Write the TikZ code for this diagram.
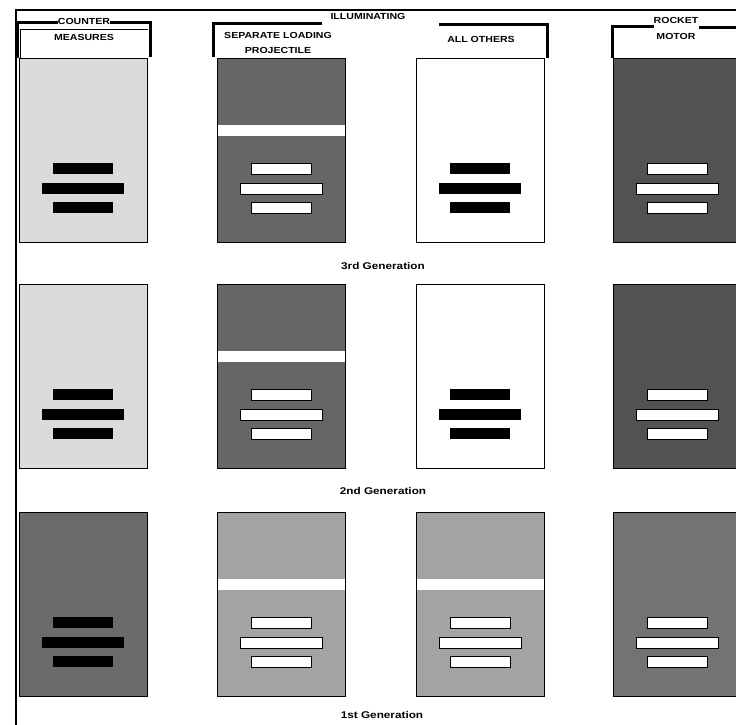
\documentclass[tikz,border=0pt]{standalone}
\usepackage{fontspec}
\setmainfont{Liberation Sans}[FakeStretch=1.2]
\definecolor{cmlight}{gray}{0.86}
\definecolor{cmdark}{gray}{0.42}
\definecolor{sldark}{gray}{0.40}
\definecolor{rmdark}{gray}{0.32}
\definecolor{rmmid}{gray}{0.45}
\definecolor{ltgray}{gray}{0.64}
\tikzset{
  frameline/.style={line width=1.4pt},
  bracket/.style={line width=3pt},
  thinline/.style={line width=0.6pt},
  panelbox/.style={draw=black, line width=0.9pt},
  blackbar/.style={fill=black},
  whitebar/.style={fill=white, draw=black, line width=0.9pt},
  stripefill/.style={fill=white},
  hdr/.style={font=\fontsize{8.8}{10}\selectfont\bfseries, inner sep=0pt, align=center},
  genlabel/.style={font=\fontsize{9.8}{11}\selectfont\bfseries, inner sep=0pt},
}
% #1 x left, #2 y top, #3 fill colour, #4 bar style, #5 stripe (1/0)
\newcommand{\drawpanel}[5]{%
  \begin{scope}[shift={(#1,#2)}]
    \fill[#3] (0,0) rectangle (128,184);
    \ifnum#5=1 \fill[stripefill] (0,67) rectangle (128,78);\fi
    \path[#4] (34,105) rectangle (94,116);
    \path[#4] (23,125) rectangle (105,136);
    \path[#4] (34,144) rectangle (94,155);
    \draw[panelbox] (0,0) rectangle (128,184);
  \end{scope}}
\begin{document}
\begin{tikzpicture}[x=1pt,y=-1pt]
  \useasboundingbox (0,0) rectangle (736,725);
  \fill[white] (0,0) rectangle (736,725);
  % outer frame
  \draw[frameline] (16,725) -- (16,10) -- (736,10);

  % ---- 3rd generation row
  \drawpanel{19}{58}{cmlight}{blackbar}{0}
  \drawpanel{217}{58}{sldark}{whitebar}{1}
  \drawpanel{416}{58}{white}{blackbar}{0}
  \drawpanel{613}{58}{rmdark}{whitebar}{0}
  % ---- 2nd generation row
  \drawpanel{19}{284}{cmlight}{blackbar}{0}
  \drawpanel{217}{284}{sldark}{whitebar}{1}
  \drawpanel{416}{284}{white}{blackbar}{0}
  \drawpanel{613}{284}{rmdark}{whitebar}{0}
  % ---- 1st generation row
  \drawpanel{19}{512}{cmdark}{blackbar}{0}
  \drawpanel{217}{512}{ltgray}{whitebar}{1}
  \drawpanel{416}{512}{ltgray}{whitebar}{1}
  \drawpanel{613}{512}{rmmid}{whitebar}{0}

  % ---- headers
  \node[hdr] (illum) at (368,16) {ILLUMINATING};

  % counter measures
  \node[hdr] (counter) at (84,21) {COUNTER};
  \node[hdr] (measures) at (84,37) {MEASURES};
  \draw[thinline] (20,58) -- (20,29) -- (148,29);
  \draw[bracket] (17,58) -- (17,23) -- (counter.west |- 0,23);
  \draw[bracket] (counter.east |- 0,23) -- (150,23) -- (150,57);

  % separate loading projectile
  \node[hdr] (seploading) at (278,35) {SEPARATE LOADING};
  \node[hdr] (projectile) at (278,50) {PROJECTILE};
  \draw[bracket] (213,57) -- (213,24) -- (322,24);

  % all others
  \node[hdr] (allothers) at (481,39) {ALL OTHERS};
  \draw[bracket] (439,25) -- (547,25) -- (547,58);

  % rocket motor
  \node[hdr] (rocket) at (676,20) {ROCKET};
  \node[hdr] (motor) at (676,36) {MOTOR};
  \draw[thinline] (612,58) -- (612,27);
  \draw[bracket] (612,58) -- (612,27) -- (rocket.west |- 0,27);
  \draw[bracket] (rocket.east |- 0,28) -- (736,28);

  % ---- generation labels
  \node[genlabel] (gen3) at (383,266) {3rd Generation};
  \node[genlabel] (gen2) at (383,491) {2nd Generation};
  \node[genlabel] (gen1) at (382,715) {1st Generation};
\end{tikzpicture}
\end{document}
